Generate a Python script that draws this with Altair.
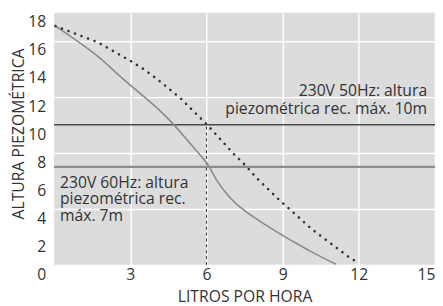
import altair as alt
import pandas as pd

# Solid curve (60Hz)
solid_x = [0.05, 1.74, 2.51, 3.29, 4.06, 4.77, 5.35, 5.93, 6.12, 6.44, 6.96, 7.47, 8.25, 9.02, 9.66, 10.1, 11.1]
solid_y = [17.05, 14.96, 13.56, 12.39, 11.23, 9.94, 8.66, 7.49, 7.02, 5.86, 4.69, 3.87, 2.94, 2.08, 1.42, 0.96, 0.05]

# Dotted curve (50Hz)
dot_x = [0.05, 1.71, 3.0, 3.52, 4.03, 4.54, 5.0, 5.45, 6.0, 7.09, 7.54, 7.99, 8.45, 8.92, 9.4, 10.1, 10.63, 11.15, 11.66, 12.02]
dot_y = [17.05, 15.9, 14.57, 13.98, 13.3, 12.55, 11.86, 11.04, 10.06, 7.89, 7.1, 6.18, 5.37, 4.55, 3.78, 2.63, 1.89, 1.19, 0.49, 0.12]

h_lines = [10, 7]
v_line_x = 6
v_line_top = 10

x_ticks = [3, 6, 9, 12, 15]
y_ticks = [0, 2, 4, 6, 8, 10, 12, 14, 16, 18]

note_50 = ["230V 50Hz: altura", "piezométrica rec. máx. 10m"]
note_60 = ["230V 60Hz: altura", "piezométrica rec.", "máx. 7m"]

FONT = "Open Sans"
TXT = "#333333"
FS = 16

xs = alt.Scale(domain=[0, 15], nice=False, zero=False)
ys = alt.Scale(domain=[0, 18], nice=False, zero=False)

solid_df = pd.DataFrame({"x": solid_x, "y": solid_y})
dot_df = pd.DataFrame({"x": dot_x, "y": dot_y})

base_axes = alt.Chart(solid_df).mark_line(opacity=0).encode(
    x=alt.X("x:Q", scale=xs,
            axis=alt.Axis(values=x_ticks, title="LITROS POR HORA",
                          labelFlush=True, labelPadding=2,
                          titleY=37, titleBaseline="alphabetic")),
    y=alt.Y("y:Q", scale=ys,
            axis=alt.Axis(values=y_ticks, title="ALTURA PIEZOMÉTRICA", labels=False,
                          titleFontSize=16,
                          titleX=-31, titleY=123, titleAngle=-90,
                          titleBaseline="alphabetic", titleAlign="center")),
)

# y tick labels, positioned by the y scale
ylab = alt.Chart(pd.DataFrame({"v": y_ticks})).mark_text(
    align="right", baseline="top", dy=2, font=FONT, fontSize=FS, color=TXT
).encode(x=alt.value(-8), y=alt.Y("v:Q", scale=ys), text="v:Q")

hl_df = pd.DataFrame({"y": h_lines, "c": ["#4a4a4a", "#8c8c8c"], "w": [1.5, 2.5]})
hrules = alt.Chart(hl_df).mark_rule().encode(
    y=alt.Y("y:Q", scale=ys),
    color=alt.Color("c:N", scale=None),
    strokeWidth=alt.StrokeWidth("w:Q", scale=None),
)

vl_df = pd.DataFrame({"x": [v_line_x], "y": [0], "y2": [v_line_top]})
vrule = alt.Chart(vl_df).mark_rule(color="#333333", strokeWidth=1, strokeDash=[3, 3]).encode(
    x=alt.X("x:Q", scale=xs), y=alt.Y("y:Q", scale=ys), y2="y2:Q"
)

solid = alt.Chart(solid_df).mark_line(color="#8a8a8a", strokeWidth=1.6, interpolate="basis").encode(
    x=alt.X("x:Q", scale=xs), y=alt.Y("y:Q", scale=ys)
)

dotted = alt.Chart(dot_df).mark_line(color="#333333", strokeWidth=2.6, strokeDash=[0.1, 7],
                                     strokeCap="round").encode(
    x=alt.X("x:Q", scale=xs), y=alt.Y("y:Q", scale=ys)
)

t50 = alt.Chart(pd.DataFrame({"x": [14.69], "y": [12.04], "t": [note_50]})).mark_text(
    align="right", baseline="alphabetic", font=FONT, fontSize=FS, color=TXT, lineHeight=18
).encode(x=alt.X("x:Q", scale=xs), y=alt.Y("y:Q", scale=ys), text="t")

t60 = alt.Chart(pd.DataFrame({"x": [0.23], "y": [5.51], "t": [note_60]})).mark_text(
    align="left", baseline="alphabetic", font=FONT, fontSize=FS, color=TXT, lineHeight=17
).encode(x=alt.X("x:Q", scale=xs), y=alt.Y("y:Q", scale=ys), text="t")

chart = alt.layer(base_axes, hrules, vrule, solid, dotted, t50, t60, ylab).properties(
    width=388, height=257,
    autosize="none",
    padding={"left": 47, "top": 2, "right": 0, "bottom": 39},
).configure_view(
    fill="#dcdcdc", stroke=None
).configure_axis(
    grid=True, gridColor="white", gridWidth=1.5, domain=False, ticks=False,
    labelFont=FONT, labelFontSize=FS, labelColor=TXT, labelOverlap=False,
    labelBound=False,
    titleFont=FONT, titleFontSize=FS, titleFontWeight="normal", titleColor=TXT,
)

chart.save("out.html", embed_options={"renderer": "svg", "actions": False})
